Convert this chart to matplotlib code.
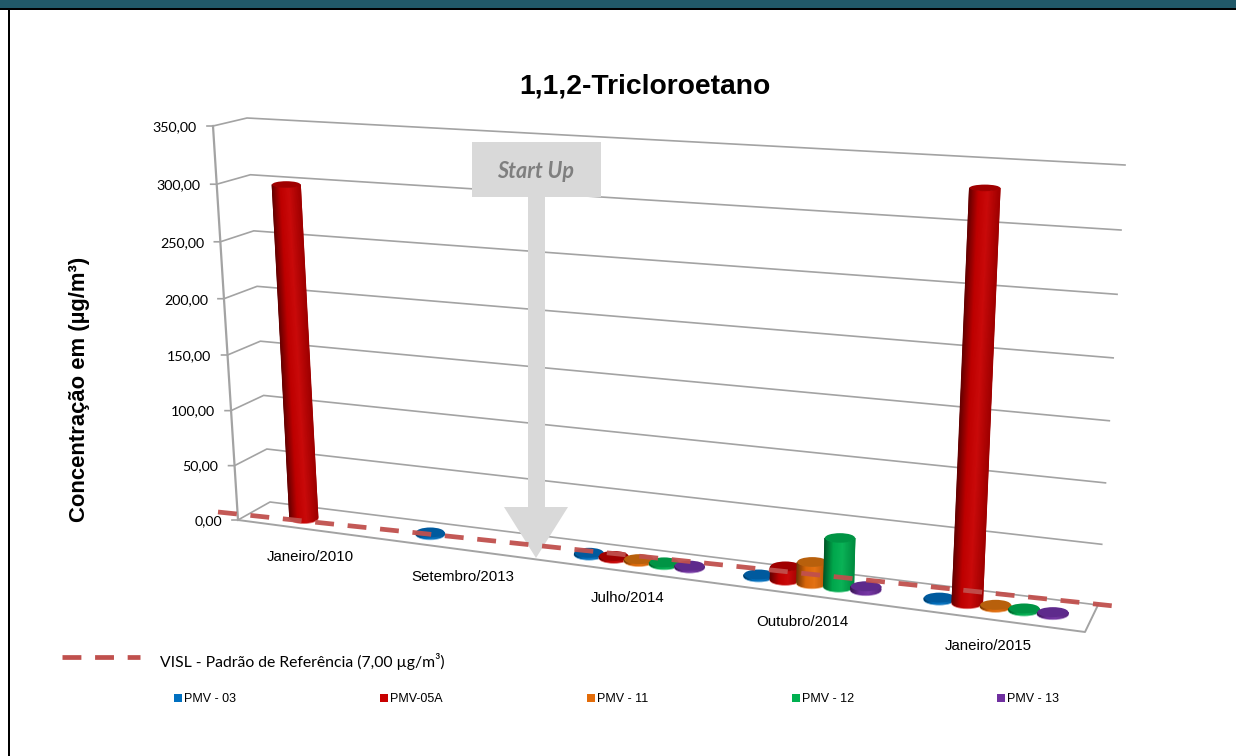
import numpy as np
import matplotlib
matplotlib.use("Agg")
import matplotlib.pyplot as plt
from matplotlib.colors import LinearSegmentedColormap, to_rgb
from matplotlib.patches import Polygon, Rectangle, Ellipse

# --- Data ---
CATEGORIES = ['Janeiro/2010', 'Setembro/2013', 'Julho/2014', 'Outubro/2014', 'Janeiro/2015']
SERIES = ['PMV - 03', 'PMV-05A', 'PMV - 11', 'PMV - 12', 'PMV - 13']
PMV_03 = [None, 1.0, 1.0, 1.0, 1.0]
PMV_05A = [296.0, None, 1.0, 10.0, 298.0]
PMV_11 = [None, None, 1.0, 16.0, 1.0]
PMV_12 = [None, None, 1.0, 37.0, 1.0]
PMV_13 = [None, None, 1.0, 2.5, 1.0]
Y_TICKS = [0, 50, 100, 150, 200, 250, 300, 350]
Y_LABELS = ['0,00', '50,00', '100,00', '150,00', '200,00', '250,00', '300,00', '350,00']
VISL_TEXT = 'VISL - Padrão de Referência (7,00 µg/m³)'

# --- Styling ---
SIDE = ['#0070C0', '#C80000', '#E36C09', '#00B050', '#7030A0']
TOP = ['#005A9E', '#A00000', '#B8600C', '#009444', '#5E2A8C']
GRID = '#A3A3A3'
DASH = '#C0504D'
ARROW = '#D9D9D9'
SANS = 'Liberation Sans'
CAL = 'Lato'
YMAX = 350.0

# corners of the 3D box in pixels: (front/back, left/right, bottom/top)
FL0, FR0, BL0, BR0 = (238, 520), (1085, 632), (270, 502), (1098, 605)
FL1, FR1, BL1, BR1 = (213, 126), (1115, 57), (247, 118), (1125, 165)


def warp(u):
    # perspective along the category axis
    return 0.838 * u + 0.162 * u ** 2


def project(t, z, v):
    # t along the categories, z into the depth, v the value
    c = [np.array(p, dtype=float) for p in (FL0, FR0, BL0, BR0, FL1, FR1, BL1, BR1)]
    bottom = (1 - z) * ((1 - t) * c[0] + t * c[1]) + z * ((1 - t) * c[2] + t * c[3])
    top = (1 - z) * ((1 - t) * c[4] + t * c[5]) + z * ((1 - t) * c[6] + t * c[7])
    r = v / YMAX
    return bottom + (top - bottom) * (0.96 * r + 0.04 * r ** 2)


def shade(color, k):
    rgb = np.array(to_rgb(color))
    if k < 1:
        return tuple(rgb * k)
    return tuple(rgb + (1 - rgb) * (k - 1))


def draw_cylinder(ax, t, value, side, top, order):
    base = project(t, 0.5, 0)
    head = project(t, 0.5, value)
    w = 28 + 3 * t
    h_base = 10.0
    h_top = 10.0 - 4.0 * value / YMAX
    a = np.linspace(-1, 1, 41)
    arc = np.sqrt(1 - a * a) / 2
    X = np.array([base[0] + a * w / 2, head[0] + a * w / 2])
    Y = np.array([base[1] + arc * h_base, head[1] + arc * h_top])
    C = np.array([a, a])
    cmap = LinearSegmentedColormap.from_list('c', [
        (0.0, shade(side, 0.5)), (0.3, shade(side, 0.95)), (0.6, shade(side, 1.04)),
        (1.0, shade(side, 0.8))])
    # pale fringe round the foot of the cylinder
    ax.add_patch(Ellipse((base[0], base[1] + 0.8), w + 1.5, h_base + 1.5,
                         fc=shade(side, 1.4), ec='none', zorder=order - 0.01))
    ax.pcolormesh(X, Y, C, shading='gouraud', cmap=cmap, vmin=-1, vmax=1, zorder=order)
    ax.add_patch(Ellipse(head, w, h_top, fc=top, ec='none', zorder=order + 0.01))


fig = plt.figure(figsize=(12.36, 7.56), dpi=100)
ax = fig.add_axes([0, 0, 1, 1])
ax.set_xlim(0, 1236)
ax.set_ylim(756, 0)
ax.set_autoscale_on(False)
ax.axis('off')

# --- Page frame ---
ax.add_patch(Rectangle((0, 0), 1236, 8, fc='#215968', ec='none', zorder=1))
ax.add_patch(Rectangle((0, 8), 1236, 2, fc='black', ec='none', zorder=1))
ax.add_patch(Rectangle((8, 8), 2, 748, fc='black', ec='none', zorder=1))

ax.text(645, 87, '1,1,2-Tricloroetano', family=SANS, weight='bold', fontsize=20.3,
        ha='center', va='center')
ax.text(80, 389, 'Concentração em (µg/m³)', family=SANS, weight='bold', fontsize=15.8,
        rotation=90, ha='center', va='center')

# --- Walls and gridlines ---
for v, label in zip(Y_TICKS, Y_LABELS):
    fl, bl, br = project(0, 0, v), project(0, 1, v), project(1, 1, v)
    ax.plot([fl[0] - 6, fl[0], bl[0], br[0]], [fl[1], fl[1], bl[1], br[1]],
            color=GRID, lw=1.2, zorder=2)
    ax.text(fl[0] - 16, fl[1] + 1, label, family=CAL, fontsize=10.3, ha='right', va='center')

axis = np.array([project(0, 0, 0), project(0, 0, YMAX)])
ax.plot(axis[:, 0], axis[:, 1], color=GRID, lw=1.6, zorder=2)
floor = np.array([project(0, 0, 0), project(1, 0, 0), project(1, 1, 0)])
ax.plot(floor[:, 0], floor[:, 1], color=GRID, lw=1.4, zorder=2)

# --- Cylinders ---
all_series = [PMV_03, PMV_05A, PMV_11, PMV_12, PMV_13]
for i in range(len(CATEGORIES)):
    for s, values in enumerate(all_series):
        if values[i] is None:
            continue
        u = (i + 0.2 + s * 0.15) / len(CATEGORIES)
        draw_cylinder(ax, warp(u), values[i], SIDE[s], TOP[s], 3 + i + s * 0.2)

for i, name in enumerate(CATEGORIES):
    p = project(warp((i + 0.5) / len(CATEGORIES)), 0, 0)
    ax.text(p[0], p[1] + 27, name, family=SANS, fontsize=10.8, ha='center', va='center')

# --- Start Up overlay ---
ax.add_patch(Rectangle((472, 142), 129, 55, fc=ARROW, ec='none', zorder=9))
ax.add_patch(Polygon([(528, 197), (545, 197), (545, 507), (568, 507), (536, 558),
                      (504, 507), (528, 507)], closed=True, fc=ARROW, ec='none', zorder=9))
ax.text(536, 172, 'Start Up', family=CAL, weight='bold', style='italic', fontsize=15.5,
        color='#7F7F7F', ha='center', va='center', zorder=10)

# --- VISL reference overlay ---
ax.plot([218, 1114], [512, 606], color=DASH, lw=3.4, dashes=(4.0, 2.9), alpha=0.95, zorder=11,
        dash_capstyle='butt')

# --- Legends ---
ax.plot([62, 140], [657, 657], color=DASH, lw=3.4, dashes=(4.0, 2.9), zorder=11,
        dash_capstyle='butt')
ax.text(160, 662, VISL_TEXT, family=CAL, fontsize=11.35, ha='left', va='center')

legend_x = [174, 380, 587, 792, 997]
for x, name, color in zip(legend_x, SERIES, SIDE):
    ax.add_patch(Rectangle((x, 694), 8, 8, fc=color, ec='none'))
    ax.text(x + 10, 699.5, name, family=SANS, fontsize=9, ha='left', va='center')

fig.savefig('out.png', dpi=100)
